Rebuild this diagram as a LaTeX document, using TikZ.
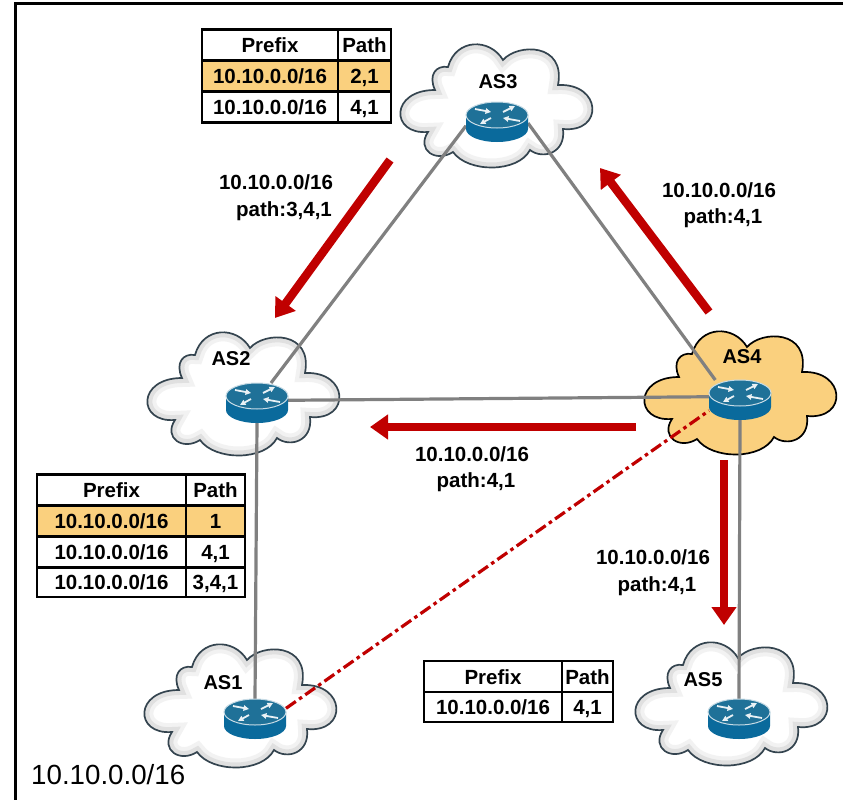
\documentclass[tikz,border=0pt]{standalone}
\usepackage{fontspec}
\setmainfont{Liberation Sans}
\usetikzlibrary{arrows.meta,calc}
\definecolor{tkorange}{HTML}{FAD07E}
\definecolor{tkred}{HTML}{C00000}
\definecolor{tkgray}{HTML}{808080}
\definecolor{tkbody}{HTML}{0A6A9C}
\definecolor{tktop}{HTML}{1F7198}
\definecolor{tkedge}{HTML}{34444F}
\newcommand{\cloudshape}{(-70,27) .. controls (-108,30) and (-108,-15) .. (-63,-15)
  .. controls (-70,-30) and (-62,-40) .. (-50,-38)
  .. controls (-42,-67) and (-8,-67) .. (5,-45)
  .. controls (20,-62) and (68,-62) .. (60,-20)
  .. controls (104,-22) and (106,28) .. (65,24)
  .. controls (68,48) and (45,55) .. (32,45)
  .. controls (20,68) and (-30,68) .. (-45,47)
  .. controls (-62,58) and (-82,45) .. (-70,27) -- cycle}
\tikzset{
  x=1pt,y=-1pt,
  pics/whitecloud/.style={code={
    \fill[white] \cloudshape;
    \begin{scope}
      \clip \cloudshape;
      \draw[line width=18pt,black!5] \cloudshape;
      \draw[line width=10pt,black!12] \cloudshape;
    \end{scope}
    \draw[tkedge,line width=1.7pt] \cloudshape;
  }},
  pics/orangecloud/.style={code={
    \fill[tkorange] \cloudshape;
    \draw[black,line width=1.7pt] \cloudshape;
  }},
  pics/router/.style={code={
    \fill[tkbody] (-31,0) -- (-31,14) arc[start angle=180,end angle=0,x radius=31,y radius=13] -- (31,0) -- cycle;
    \fill[tktop,draw=white!75!tktop,line width=1pt] (0,0) ellipse[x radius=31,y radius=13];
    \begin{scope}[white!90!tktop,line width=1.8pt,-{Triangle[width=5.5pt,length=5.5pt]}]
      \draw (-22,-6) -- (-6,-3);
      \draw (23,6) -- (6,3);
      \draw (6,-3) -- (18,-9);
      \draw (-6,3) -- (-17,9);
    \end{scope}
  }},
  rtbox/.style={minimum width=62pt,minimum height=40pt,inner sep=0pt,outer sep=0pt},
  link/.style={tkgray,line width=3.2pt},
  backup/.style={tkred,line width=3.2pt,dash pattern=on 12pt off 4pt on 3.5pt off 4pt},
  advert/.style={tkred,line width=8.5pt,-{Triangle[width=24pt,length=18pt]}},
  aslabel/.style={font=\fontsize{20}{22}\selectfont\bfseries,inner sep=0pt},
  advlabel/.style={font=\fontsize{20.5}{26.5}\selectfont\bfseries,align=center,inner sep=0pt},
  cell/.style={draw=black,line width=2.3pt,inner sep=0pt,text height=15pt,text depth=0pt,font=\fontsize{20.5}{22}\selectfont\bfseries},
  best/.style={cell,fill=tkorange},
}
\begin{document}
\begin{tikzpicture}
\useasboundingbox (0,0) rectangle (843,800);
\fill[white] (0,0) rectangle (843,800);
\coordinate (fa) at (15,800);
\coordinate (fb) at (15,4);
\coordinate (fc) at (843,4);
\draw[black,line width=3pt] (fa) -- (fb) -- (fc);

% clouds
\pic at (498,105) {whitecloud};
\pic at (245,393) {whitecloud};
\pic at (742,392) {orangecloud};
\pic at (242,705) {whitecloud};
\pic at (733,703) {whitecloud};

% router anchors
\node[rtbox] (r3) at (497,122) {};
\node[rtbox] (r2) at (257,403) {};
\node[rtbox] (r4) at (740,400) {};
\node[rtbox] (r1) at (255,719) {};
\node[rtbox] (r5) at (739,719) {};

% links
\draw[link] (r3.187) -- (r2.55);
\draw[link] (r3.358) -- (r4.141);
\draw[link] (r2.5) -- (r4.174);
\draw[link] (r2.south) -- (r1.north);
\draw[link] (r4.south) -- (r5.north);
\draw[backup] (r1.19) -- (r4.199);

% routers
\pic at (497,115) {router};
\pic at (257,396) {router};
\pic at (740,393) {router};
\pic at (255,712) {router};
\pic at (739,712) {router};

% AS labels
\node[aslabel] (as3) at (498,82) {AS3};
\node[aslabel] (as2) at (231,359) {AS2};
\node[aslabel] (as4) at (742,357) {AS4};
\node[aslabel] (as1) at (223,683) {AS1};
\node[aslabel] (as5) at (703,680) {AS5};

% advertisement arrows
\coordinate (a1s) at (390,160); \coordinate (a1e) at (275,318);
\coordinate (a2s) at (709,312); \coordinate (a2e) at (600,168);
\coordinate (a3s) at (636,427); \coordinate (a3e) at (370,427);
\coordinate (a4s) at (724,460); \coordinate (a4e) at (724,625);
\draw[advert] (a1s) -- (a1e);
\draw[advert] (a2s) -- (a2e);
\draw[advert] (a3s) -- (a3e);
\draw[advert] (a4s) -- (a4e);

% advertisement labels
\node[advlabel] (l1) at (276,197.5) {10.10.0.0/16\\\hspace*{16pt}path:3,4,1};
\node[advlabel] (l2) at (719,205) {10.10.0.0/16\\\hspace*{8pt}path:4,1};
\node[advlabel] (l3) at (472,469) {10.10.0.0/16\\\hspace*{8pt}path:4,1};
\node[advlabel] (l4) at (653,572.5) {10.10.0.0/16\\\hspace*{8pt}path:4,1};

% table at AS3
\node[cell,minimum width=136pt,minimum height=31pt] (t1a) at (270,45) {Prefix};
\node[cell,minimum width=53pt,minimum height=31pt] (t1b) at (364.5,45) {Path};
\node[best,minimum width=136pt,minimum height=31pt] (t1c) at (270,76) {10.10.0.0/16};
\node[best,minimum width=53pt,minimum height=31pt] (t1d) at (364.5,76) {2,1};
\node[cell,minimum width=136pt,minimum height=31pt] (t1e) at (270,107) {10.10.0.0/16};
\node[cell,minimum width=53pt,minimum height=31pt] (t1f) at (364.5,107) {4,1};

% table at AS1
\node[cell,minimum width=149pt,minimum height=31pt] (t2a) at (111.5,490) {Prefix};
\node[cell,minimum width=59pt,minimum height=31pt] (t2b) at (215.5,490) {Path};
\node[best,minimum width=149pt,minimum height=31pt] (t2c) at (111.5,521) {10.10.0.0/16};
\node[best,minimum width=59pt,minimum height=31pt] (t2d) at (215.5,521) {1};
\node[cell,minimum width=149pt,minimum height=31pt] (t2e) at (111.5,552) {10.10.0.0/16};
\node[cell,minimum width=59pt,minimum height=31pt] (t2f) at (215.5,552) {4,1};
\node[cell,minimum width=149pt,minimum height=30pt] (t2g) at (111.5,582) {10.10.0.0/16};
\node[cell,minimum width=59pt,minimum height=30pt] (t2h) at (215.5,582) {3,4,1};

% table at AS5
\node[cell,minimum width=138pt,minimum height=31pt] (t3a) at (493,676.5) {Prefix};
\node[cell,minimum width=51pt,minimum height=31pt] (t3b) at (587.5,676.5) {Path};
\node[cell,minimum width=138pt,minimum height=30pt] (t3c) at (493,707) {10.10.0.0/16};
\node[cell,minimum width=51pt,minimum height=30pt] (t3d) at (587.5,707) {4,1};

\node[font=\fontsize{27.7}{30}\selectfont,inner sep=0pt,anchor=west] (net) at (31,775) {10.10.0.0/16};
\end{tikzpicture}
\end{document}
